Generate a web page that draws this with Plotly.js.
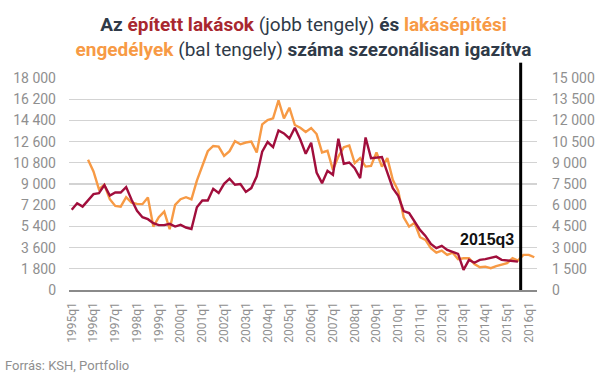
<!DOCTYPE html>
<html>
<head>
<meta charset="utf-8">
<script src="https://cdn.plot.ly/plotly-3.0.1.min.js"></script>
<style>
  html, body { margin: 0; padding: 0; background: #fff; }
  #chart { width: 607px; height: 380px; }
</style>
</head>
<body>
<div id="chart"></div>
<script>
const quarters = [
  "1995q1","1995q2","1995q3","1995q4","1996q1","1996q2","1996q3","1996q4",
  "1997q1","1997q2","1997q3","1997q4","1998q1","1998q2","1998q3","1998q4",
  "1999q1","1999q2","1999q3","1999q4","2000q1","2000q2","2000q3","2000q4",
  "2001q1","2001q2","2001q3","2001q4","2002q1","2002q2","2002q3","2002q4",
  "2003q1","2003q2","2003q3","2003q4","2004q1","2004q2","2004q3","2004q4",
  "2005q1","2005q2","2005q3","2005q4","2006q1","2006q2","2006q3","2006q4",
  "2007q1","2007q2","2007q3","2007q4","2008q1","2008q2","2008q3","2008q4",
  "2009q1","2009q2","2009q3","2009q4","2010q1","2010q2","2010q3","2010q4",
  "2011q1","2011q2","2011q3","2011q4","2012q1","2012q2","2012q3","2012q4",
  "2013q1","2013q2","2013q3","2013q4","2014q1","2014q2","2014q3","2014q4",
  "2015q1","2015q2","2015q3","2015q4","2016q1","2016q2"
];

const tickLabels = [
  "1995q1","1996q1","1997q1","1998q1","1999q1","2000q1","2001q1","2002q1",
  "2003q1","2004q1","2005q1","2006q1","2007q1","2008q1","2009q1","2010q1",
  "2011q1","2012q1","2013q1","2014q1","2015q1","2016q1"
];

// Épített lakások (right axis), 1995q1 .. 2015q3
const builtHomes = [
  5670, 6140, 5900, 6330, 6780, 6850, 7420, 6680,
  6900, 6900, 7280, 6380, 5600, 5150, 5010, 4730,
  4590, 4590, 4680, 4490, 4610, 4420, 4320, 5850,
  6340, 6330, 7160, 6860, 7510, 7880, 7450, 7500,
  6940, 7210, 8040, 9780, 10470, 10110, 11290, 11080,
  10720, 11480, 10650, 9640, 10420, 8310, 7560, 8430,
  8150, 10700, 8930, 9020, 8620, 7920, 10790, 9330,
  9380, 9400, 8310, 7210, 6660, 5580, 5440, 4850,
  4250, 3830, 3260, 2960, 3120, 2830, 2670, 2550,
  1420, 2130, 1930, 2130, 2180, 2250, 2360, 2130,
  2080, 2080, 2010, null, null, null
];

// Lakásépítési engedélyek (left axis), 1995q4 .. 2016q2
const permits = [
  null, null, null, 11050, 10060, 8560, 8930, 7710,
  7140, 7080, 7880, 7420, 7310, 7290, 7850, 5380,
  6180, 6660, 5160, 7230, 7710, 7880, 7700, 9290,
  10570, 11780, 12230, 12180, 11380, 11790, 12630, 12370,
  12520, 12600, 11670, 14060, 14430, 14570, 16100, 14570,
  15480, 14010, 13780, 13410, 13750, 13240, 11680, 11820,
  10200, 11330, 12130, 12270, 10770, 11200, 10480, 10540,
  11680, 10480, 11200, 9350, 8420, 6170, 5380, 5700,
  4480, 4250, 3550, 3170, 3340, 2980, 3170, 2610,
  2700, 2700, 2210, 1930, 1980, 1850, 2020, 2130,
  2270, 2700, 2490, 2980, 2980, 2780
];

const leftTicks = [0, 1800, 3600, 5400, 7200, 9000, 10800, 12600, 14400, 16200, 18000];
const rightTicks = [0, 1500, 3000, 4500, 6000, 7500, 9000, 10500, 12000, 13500, 15000];

const RED = "#a10e3c";
const ORANGE = "#f79a45";
const GRAY = "#8f8f8f";

const traces = [
  {
    x: quarters, y: permits, type: "scatter", mode: "lines",
    name: "Lakásépítési engedélyek", yaxis: "y",
    line: { color: ORANGE, width: 2.4 }, connectgaps: false, hoverinfo: "x+y"
  },
  {
    x: quarters, y: builtHomes, type: "scatter", mode: "lines",
    name: "Épített lakások", yaxis: "y2",
    line: { color: RED, width: 2.4 }, connectgaps: false, hoverinfo: "x+y"
  }
];

const titleText =
  "<b>Az </b><b><span style='color:#a8272f'>épített lakások</span></b> (jobb tengely) <b>és </b>" +
  "<b><span style='color:#f79a45'>lakásépítési</span></b><br>" +
  "<b><span style='color:#f79a45'>engedélyek</span></b> (bal tengely) <b>száma szezonálisan igazítva</b>";

const layout = {
  width: 607, height: 380,
  paper_bgcolor: "#ffffff", plot_bgcolor: "#ffffff",
  separators: ", ",
  showlegend: false,
  margin: { l: 69, r: 70, t: 78, b: 90 },
  font: { family: "Roboto, 'Noto Sans', sans-serif", color: GRAY },
  title: {
    text: titleText,
    x: 0.5, xanchor: "center", xref: "container",
    y: 1 - 31 / 380, yanchor: "top", yref: "container",
    font: { family: "Roboto, sans-serif", size: 19, color: "#2f3a48" }
  },
  xaxis: {
    type: "category",
    range: [-0.5, quarters.length - 0.5],
    tickmode: "array", tickvals: tickLabels, ticktext: tickLabels,
    tickangle: -90,
    tickfont: { size: 12, color: GRAY, family: "Roboto, sans-serif" },
    ticks: "", showgrid: false,
    showline: true, linecolor: "#8a8a8a", linewidth: 1.5,
    zeroline: false, ticklabelstandoff: 6
  },
  yaxis: {
    range: [0, 18000],
    tickmode: "array", tickvals: leftTicks,
    tickformat: ",d",
    tickfont: { size: 14, color: GRAY, family: "Roboto, sans-serif" },
    showgrid: true, gridcolor: "#d3d3d3", gridwidth: 1.3,
    zeroline: false, showline: false, ticks: "",
    ticklabelstandoff: 12
  },
  yaxis2: {
    range: [0, 15000], overlaying: "y", side: "right",
    tickmode: "array", tickvals: rightTicks,
    tickformat: ",d",
    tickfont: { size: 14, color: GRAY, family: "Roboto, sans-serif" },
    showgrid: false, zeroline: false, showline: false, ticks: "",
    ticklabelstandoff: 14
  },
  shapes: [
    {
      type: "line", xref: "x", yref: "paper",
      x0: 82.5, x1: 82.5, y0: 0, y1: (290 - 63) / 211.7,
      line: { color: "#000000", width: 3 }
    }
  ],
  annotations: [
    {
      text: "<b>2015q3</b>", xref: "x", yref: "y",
      x: 81.7, y: 4250, xanchor: "right", yanchor: "middle",
      showarrow: false,
      font: { size: 16, color: "#111111", family: "'Liberation Sans', Arial, sans-serif" }
    },
    {
      text: "Forrás: KSH, Portfolio", xref: "paper", yref: "paper",
      x: (3 - 69) / 468, y: (290 - 365) / 211.7,
      xanchor: "left", yanchor: "middle", showarrow: false,
      font: { size: 13, color: GRAY, family: "Roboto, sans-serif" }
    }
  ]
};

Plotly.newPlot("chart", traces, layout, { displayModeBar: false, staticPlot: true });
</script>
</body>
</html>
